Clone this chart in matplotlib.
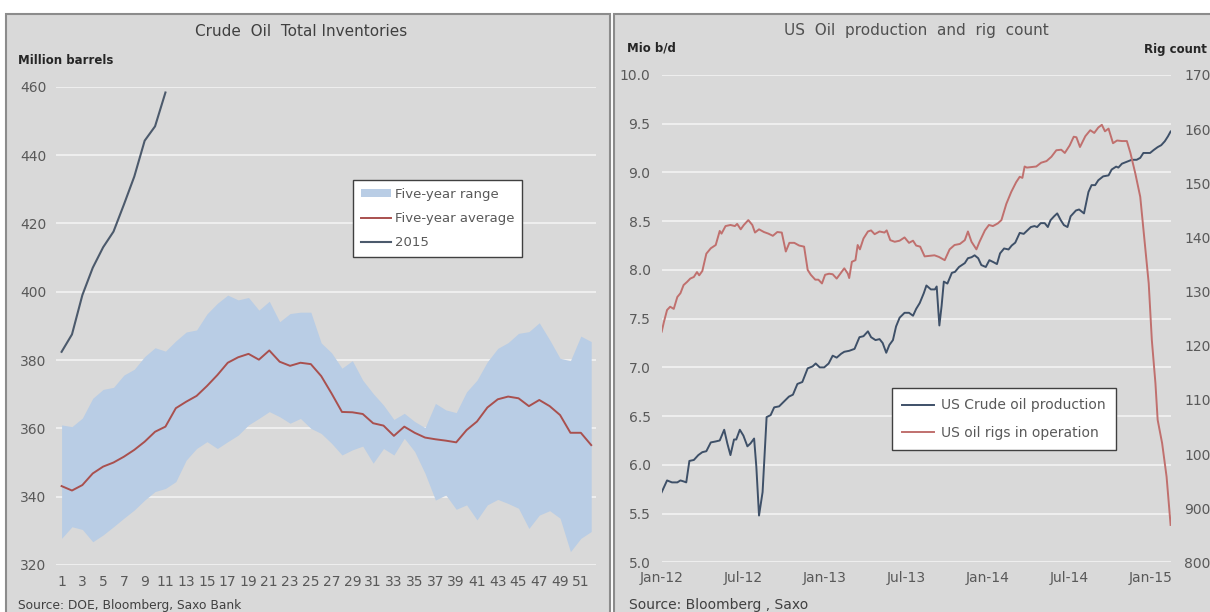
import numpy as np
import pandas as pd
import matplotlib
matplotlib.use("Agg")
import matplotlib.pyplot as plt
import matplotlib.dates as mdates
from matplotlib.patches import Rectangle, Patch
from matplotlib.lines import Line2D

# ---- left chart data: crude oil inventories (million barrels) ----
weeks = list(range(1, 53))
range_high = [361, 360.5, 363, 368.8, 371.4, 372, 375.6, 377.3, 381, 383.6,
              382.6, 385.6, 388.2, 388.8, 393.5, 396.6, 399, 397.6, 398.3, 394.6,
              397.2, 391.2, 393.6, 394, 394, 385, 382.1, 377.6, 379.8, 374.1,
              370.2, 366.8, 362.6, 364.4, 362, 360.2, 367.3, 365.4, 364.6, 370.7,
              374.1, 379.5, 383.4, 385.1, 387.8, 388.3, 390.9, 385.9, 380.5, 379.8,
              387, 385.4]
range_low = [327.8, 331.2, 330.4, 326.8, 328.8, 331.2, 333.7, 336.1, 339, 341.5,
             342.4, 344.4, 350.7, 354.1, 356.1, 354.1, 356.1, 358, 361, 362.9,
             364.9, 363.4, 361.5, 362.9, 360, 358.5, 355.6, 352.2, 353.7, 354.8,
             349.8, 354.1, 352.2, 357.1, 353.2, 346.8, 339, 340.5, 336.3, 337.6,
             333.2, 337.6, 339.2, 338, 336.6, 330.7, 334.6, 335.9, 333.7, 323.9,
             327.8, 329.8]
range_avg = [343.1, 341.8, 343.4, 346.8, 348.8, 350, 351.7, 353.7, 356.1, 359,
             360.5, 365.9, 367.8, 369.5, 372.4, 375.6, 379.2, 380.8, 381.8, 380.1,
             382.8, 379.5, 378.3, 379.2, 378.8, 375.3, 370.2, 364.8, 364.7, 364.2,
             361.5, 360.8, 357.8, 360.5, 358.7, 357.3, 356.8, 356.4, 355.9, 359.5,
             362, 366.1, 368.5, 369.3, 368.8, 366.5, 368.3, 366.5, 363.9, 358.7,
             358.7, 355.1]
inv_2015 = [382.4, 387.5, 399, 407, 413, 417.6, 425.5, 433.7, 444.2, 448.4, 458.3]
week_ticks = list(range(1, 53, 2))

# ---- right chart data: US production (mio b/d) ----
prod_dates = ["2012-01-01", "2012-01-06", "2012-01-13", "2012-01-24", "2012-02-05",
              "2012-02-12", "2012-02-19", "2012-02-25", "2012-03-03", "2012-03-13",
              "2012-03-23", "2012-04-01", "2012-04-10", "2012-04-20", "2012-05-01",
              "2012-05-10", "2012-05-20", "2012-05-27", "2012-06-03", "2012-06-11",
              "2012-06-16", "2012-06-24", "2012-07-02", "2012-07-11", "2012-07-18",
              "2012-07-26", "2012-07-31", "2012-08-06", "2012-08-14", "2012-08-23",
              "2012-09-01", "2012-09-09", "2012-09-20", "2012-10-01", "2012-10-12",
              "2012-10-21", "2012-10-31", "2012-11-11", "2012-11-23", "2012-12-04",
              "2012-12-11", "2012-12-20", "2012-12-30", "2013-01-09", "2013-01-18",
              "2013-01-27", "2013-02-06", "2013-02-13", "2013-02-24", "2013-03-08",
              "2013-03-19", "2013-03-28", "2013-04-07", "2013-04-14", "2013-04-24",
              "2013-05-03", "2013-05-10", "2013-05-18", "2013-05-25", "2013-06-02",
              "2013-06-09", "2013-06-17", "2013-06-28", "2013-07-08", "2013-07-17",
              "2013-07-24", "2013-08-01", "2013-08-10", "2013-08-16", "2013-08-26",
              "2013-09-04", "2013-09-08", "2013-09-14", "2013-09-19", "2013-09-24",
              "2013-10-02", "2013-10-12", "2013-10-19", "2013-10-28", "2013-11-10",
              "2013-11-17", "2013-11-25", "2013-12-02", "2013-12-10", "2013-12-17",
              "2013-12-27", "2014-01-04", "2014-01-13", "2014-01-21", "2014-01-28",
              "2014-02-06", "2014-02-16", "2014-02-23", "2014-03-03", "2014-03-13",
              "2014-03-22", "2014-03-29", "2014-04-07", "2014-04-15", "2014-04-21",
              "2014-04-29", "2014-05-08", "2014-05-15", "2014-05-21", "2014-05-29",
              "2014-06-05", "2014-06-13", "2014-06-20", "2014-06-28", "2014-07-05",
              "2014-07-17", "2014-07-24", "2014-08-04", "2014-08-14", "2014-08-21",
              "2014-08-29", "2014-09-05", "2014-09-16", "2014-09-28", "2014-10-05",
              "2014-10-15", "2014-10-20", "2014-10-28", "2014-11-08", "2014-11-19",
              "2014-11-30", "2014-12-08", "2014-12-15", "2014-12-23", "2014-12-30",
              "2015-01-07", "2015-01-16", "2015-01-24", "2015-02-01", "2015-02-08",
              "2015-02-14"]
prod_vals = [5.72, 5.77, 5.84, 5.82, 5.82, 5.84, 5.83, 5.82, 6.04, 6.05,
             6.10, 6.13, 6.14, 6.23, 6.24, 6.25, 6.36, 6.22, 6.10, 6.26,
             6.26, 6.36, 6.30, 6.19, 6.22, 6.27, 5.98, 5.48, 5.72, 6.49,
             6.51, 6.59, 6.60, 6.65, 6.70, 6.72, 6.83, 6.85, 6.99, 7.01,
             7.04, 7.00, 7.00, 7.04, 7.12, 7.10, 7.14, 7.16, 7.17, 7.19,
             7.31, 7.32, 7.37, 7.31, 7.28, 7.29, 7.25, 7.15, 7.23, 7.28,
             7.42, 7.51, 7.56, 7.56, 7.53, 7.60, 7.66, 7.76, 7.84, 7.80,
             7.80, 7.83, 7.43, 7.63, 7.88, 7.86, 7.97, 7.98, 8.03, 8.07,
             8.12, 8.13, 8.15, 8.12, 8.05, 8.03, 8.10, 8.08, 8.06, 8.17,
             8.22, 8.21, 8.25, 8.28, 8.38, 8.37, 8.40, 8.44, 8.45, 8.44,
             8.48, 8.48, 8.44, 8.51, 8.55, 8.58, 8.51, 8.46, 8.44, 8.55,
             8.61, 8.62, 8.58, 8.80, 8.87, 8.87, 8.92, 8.96, 8.97, 9.03,
             9.06, 9.05, 9.09, 9.11, 9.13, 9.13, 9.15, 9.20, 9.20, 9.20,
             9.23, 9.26, 9.28, 9.32, 9.37, 9.42]

# ---- right chart data: US oil rigs in operation ----
rig_dates = ["2012-01-01", "2012-01-06", "2012-01-13", "2012-01-20", "2012-01-28",
             "2012-02-05", "2012-02-12", "2012-02-19", "2012-02-27", "2012-03-05",
             "2012-03-13", "2012-03-20", "2012-03-25", "2012-04-01", "2012-04-10",
             "2012-04-20", "2012-05-01", "2012-05-10", "2012-05-14", "2012-05-23",
             "2012-06-03", "2012-06-13", "2012-06-18", "2012-06-26", "2012-07-03",
             "2012-07-13", "2012-07-22", "2012-07-28", "2012-08-06", "2012-08-17",
             "2012-08-27", "2012-09-06", "2012-09-16", "2012-09-26", "2012-10-05",
             "2012-10-13", "2012-10-24", "2012-11-04", "2012-11-15", "2012-11-23",
             "2012-11-30", "2012-12-10", "2012-12-17", "2012-12-25", "2013-01-01",
             "2013-01-10", "2013-01-18", "2013-01-27", "2013-02-06", "2013-02-13",
             "2013-02-21", "2013-02-24", "2013-03-02", "2013-03-10", "2013-03-15",
             "2013-03-20", "2013-03-28", "2013-04-07", "2013-04-14", "2013-04-22",
             "2013-05-03", "2013-05-14", "2013-05-19", "2013-05-27", "2013-06-06",
             "2013-06-17", "2013-06-28", "2013-07-08", "2013-07-17", "2013-07-24",
             "2013-08-02", "2013-08-12", "2013-08-23", "2013-09-03", "2013-09-13",
             "2013-09-26", "2013-10-07", "2013-10-18", "2013-10-30", "2013-11-10",
             "2013-11-17", "2013-11-25", "2013-12-06", "2013-12-13", "2013-12-25",
             "2014-01-03", "2014-01-12", "2014-01-23", "2014-01-31", "2014-02-11",
             "2014-02-22", "2014-03-05", "2014-03-13", "2014-03-19", "2014-03-24",
             "2014-03-29", "2014-04-08", "2014-04-19", "2014-04-30", "2014-05-12",
             "2014-05-23", "2014-06-03", "2014-06-14", "2014-06-22", "2014-07-03",
             "2014-07-12", "2014-07-18", "2014-07-26", "2014-08-07", "2014-08-18",
             "2014-08-27", "2014-09-05", "2014-09-13", "2014-09-20", "2014-09-28",
             "2014-10-08", "2014-10-17", "2014-10-28", "2014-11-08", "2014-11-16",
             "2014-11-27", "2014-12-08", "2014-12-16", "2014-12-27", "2015-01-03",
             "2015-01-11", "2015-01-16", "2015-01-26", "2015-02-05", "2015-02-14"]
rig_vals = [1226, 1244, 1266, 1272, 1268, 1290, 1297, 1312, 1318, 1324,
            1327, 1336, 1330, 1338, 1370, 1380, 1386, 1412, 1407, 1421,
            1423, 1421, 1425, 1415, 1423, 1432, 1423, 1409, 1415, 1410,
            1407, 1403, 1410, 1409, 1374, 1390, 1390, 1385, 1383, 1340,
            1331, 1322, 1322, 1315, 1331, 1333, 1332, 1324, 1335, 1343,
            1333, 1325, 1355, 1358, 1386, 1378, 1398, 1411, 1413, 1406,
            1411, 1409, 1413, 1395, 1392, 1394, 1400, 1390, 1394, 1385,
            1383, 1365, 1366, 1367, 1364, 1358, 1378, 1386, 1388, 1395,
            1411, 1392, 1378, 1392, 1413, 1423, 1421, 1426, 1432, 1462,
            1484, 1502, 1512, 1510, 1531, 1529, 1530, 1531, 1538, 1541,
            1549, 1561, 1562, 1556, 1570, 1586, 1585, 1567, 1587, 1598,
            1593, 1603, 1608, 1596, 1601, 1574, 1579, 1578, 1578, 1556,
            1518, 1475, 1408, 1315, 1210, 1131, 1063, 1020, 958, 869]

W, H = 1210, 612
BG = "#d9d9d9"
TXT = "#595959"

def fx(px):
    return px / W

def fy(py):
    return 1 - py / H

fig = plt.figure(figsize=(12.1, 6.12), dpi=100)
fig.patch.set_facecolor("white")

# grey panels behind both charts
for x0, x1 in [(6, 610), (614, 1215)]:
    fig.patches.append(Rectangle((fx(x0), fy(620)), fx(x1 - x0), (620 - 14) / H,
                                 transform=fig.transFigure, facecolor=BG,
                                 edgecolor="#8c8c8c", linewidth=1.5, zorder=-5))

def style_axes(ax):
    ax.set_facecolor("none")
    for s in ax.spines.values():
        s.set_visible(False)
    ax.tick_params(length=0, colors=TXT, labelsize=10)
    ax.grid(axis="y", color="#eeeeee", linewidth=1.5)
    ax.set_axisbelow(True)

# ---------------- left chart ----------------
axl = fig.add_axes([fx(56.4), fy(565), fx(540), (565 - 86.7) / H])
style_axes(axl)
axl.fill_between(weeks, range_low, range_high, color="#b9cde5", linewidth=0)
axl.plot(weeks, range_avg, color="#a9504e", linewidth=1.4)
axl.plot(weeks[:len(inv_2015)], inv_2015, color="#4c5a6c", linewidth=1.5)
axl.set_xlim(0.5, 52.5)
axl.set_ylim(320, 460)
axl.set_yticks(range(320, 461, 20))
axl.set_xticks(week_ticks)
axl.tick_params(axis="y", pad=7)
axl.tick_params(axis="x", pad=7)

leg_handles = [Patch(facecolor="#b9cde5", edgecolor="none"),
               Line2D([], [], color="#a9504e", lw=1.4),
               Line2D([], [], color="#4c5a6c", lw=1.5)]
leg = axl.legend(leg_handles, ["Five-year range", "Five-year average", "2015"],
                 loc="upper left", bbox_to_anchor=(0.549, 0.805), borderaxespad=0,
                 fancybox=False, framealpha=1, edgecolor="#404040", fontsize=9.5,
                 handlelength=2.3, handleheight=0.5, handletextpad=0.3,
                 labelspacing=0.85, borderpad=0.6)
for t in leg.get_texts():
    t.set_color(TXT)

fig.text(fx(301), fy(32), "Crude  Oil  Total Inventories", ha="center", va="center",
         fontsize=11, color="#404040")
fig.text(fx(18), fy(60), "Million barrels", ha="left", va="center", fontsize=8.5,
         color="#262626", fontweight="bold")
fig.text(fx(18), fy(605), "Source: DOE, Bloomberg, Saxo Bank", ha="left", va="center",
         fontsize=8.8, color="#404040")

# ---------------- right chart ----------------
axr = fig.add_axes([fx(661.7), fy(562.3), fx(508.9), (562.3 - 75) / H])
style_axes(axr)
pd_dates = pd.to_datetime(prod_dates)
rg_dates = pd.to_datetime(rig_dates)
axr.plot(pd_dates, prod_vals, color="#3e5068", linewidth=1.4)
axr.set_ylim(5, 10)
axr.set_yticks(np.arange(5, 10.01, 0.5))
axr.yaxis.set_major_formatter(matplotlib.ticker.FormatStrFormatter("%.1f"))
axr.set_xlim(pd.Timestamp("2012-01-01"), pd.Timestamp("2015-02-14"))
axr.xaxis.set_major_locator(mdates.MonthLocator(bymonth=[1, 7]))
axr.xaxis.set_major_formatter(mdates.DateFormatter("%b-%y"))
axr.tick_params(axis="y", pad=8)
axr.tick_params(axis="x", pad=6)

axr2 = axr.twinx()
for s in axr2.spines.values():
    s.set_visible(False)
axr2.plot(rg_dates, rig_vals, color="#c0706e", linewidth=1.4)
axr2.set_ylim(800, 1700)
axr2.set_yticks(range(800, 1701, 100))
axr2.tick_params(length=0, colors=TXT, labelsize=10, pad=10)

r_handles = [Line2D([], [], color="#3e5068", lw=1.4),
             Line2D([], [], color="#c0706e", lw=1.4)]
leg2 = axr2.legend(r_handles, ["US Crude oil production", "US oil rigs in operation"],
                   loc="upper left", bbox_to_anchor=(0.4525, 0.3577), borderaxespad=0,
                   fancybox=False, framealpha=1, edgecolor="#404040", fontsize=10,
                   handlelength=2.3, handletextpad=0.45, labelspacing=0.95,
                   borderpad=0.75)
for t in leg2.get_texts():
    t.set_color(TXT)

fig.text(fx(916), fy(30), "US  Oil  production  and  rig  count", ha="center",
         va="center", fontsize=11, color="#505050")
fig.text(fx(627), fy(48), "Mio b/d", ha="left", va="center", fontsize=8.5,
         color="#262626", fontweight="bold")
fig.text(fx(1144), fy(50), "Rig count", ha="left", va="center", fontsize=8.5,
         color="#262626", fontweight="bold")
fig.text(fx(629), fy(605), "Source: Bloomberg , Saxo", ha="left", va="center",
         fontsize=10, color="#404040")

fig.savefig("out.png", dpi=100)
